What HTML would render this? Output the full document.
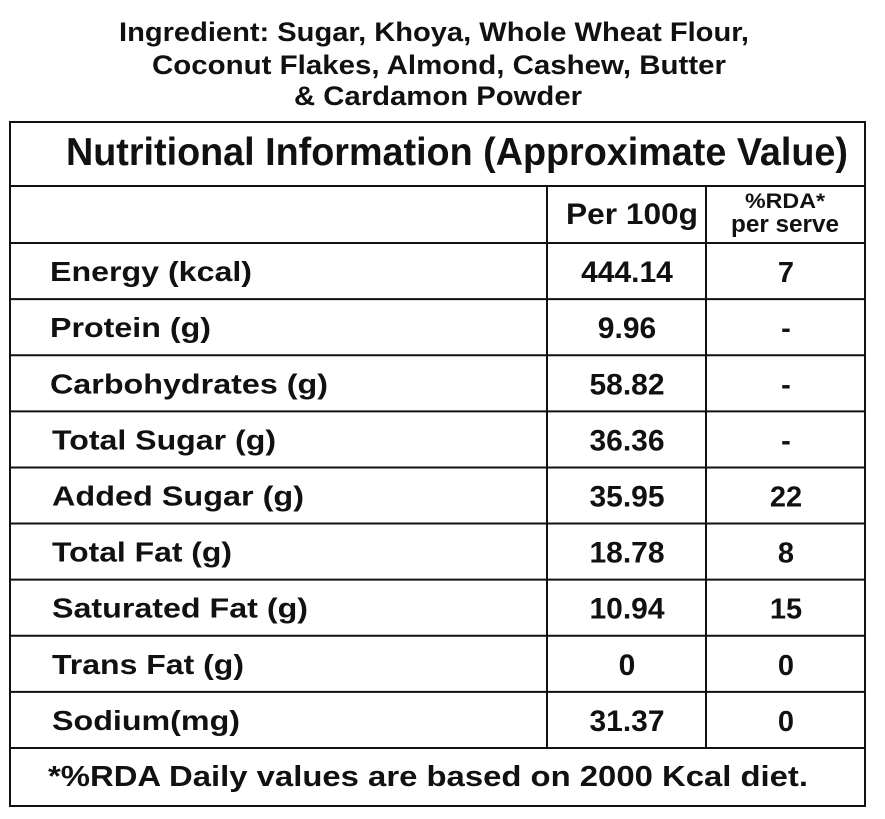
<!DOCTYPE html>
<html><head><meta charset="utf-8"><style>
html,body{margin:0;padding:0;background:#fff;}
svg{display:block;}
text{font-family:"Liberation Sans",Arial,sans-serif;font-weight:bold;fill:#111;}
</style></head><body>
<svg id="svg" width="885" height="819" viewBox="0 0 885 819" xmlns="http://www.w3.org/2000/svg">
<g>
<text x="119" y="41" font-size="27" textLength="630" lengthAdjust="spacingAndGlyphs">Ingredient: Sugar, Khoya, Whole Wheat Flour,</text>
<text x="152" y="74" font-size="27" textLength="574" lengthAdjust="spacingAndGlyphs">Coconut Flakes, Almond, Cashew, Butter</text>
<text x="294" y="105" font-size="27" textLength="288" lengthAdjust="spacingAndGlyphs">&amp; Cardamon Powder</text>
</g>
<g id="grid" stroke="#111" stroke-width="2" fill="none">
<rect x="10" y="122" width="855" height="684"/>
<line x1="10" y1="186" x2="865" y2="186"/>
<line x1="547" y1="186" x2="547" y2="748"/>
<line x1="706" y1="186" x2="706" y2="748"/>
</g>
<text x="66" y="165" font-size="39" textLength="782" lengthAdjust="spacingAndGlyphs">Nutritional Information (Approximate Value)</text>
<text x="566" y="224" font-size="30" textLength="132" lengthAdjust="spacingAndGlyphs">Per 100g</text>
<text x="785" y="208" font-size="21" text-anchor="middle" textLength="80" lengthAdjust="spacingAndGlyphs">%RDA*</text>
<text x="785" y="232" font-size="24" text-anchor="middle" textLength="108" lengthAdjust="spacingAndGlyphs">per serve</text>
<g id="rows"></g>
<text x="48" y="786" font-size="29" textLength="760" lengthAdjust="spacingAndGlyphs">*%RDA Daily values are based on 2000 Kcal diet.</text>
</svg>
<script>
const labels = ["Energy (kcal)","Protein (g)","Carbohydrates (g)","Total Sugar (g)","Added Sugar (g)","Total Fat (g)","Saturated Fat (g)","Trans Fat (g)","Sodium(mg)"];
const per100 = ["444.14","9.96","58.82","36.36","35.95","18.78","10.94","0","31.37"];
const rda = ["7","-","-","-","22","8","15","0","0"];
const labelWidths = [202,161,278,224,252,180,256,192,188];
const NS="http://www.w3.org/2000/svg";
const rows=document.getElementById('rows');
const grid=document.getElementById('grid');
const top0=243, rowH=(748-243)/labels.length;
for(let i=0;i<labels.length;i++){
  const y=top0+i*rowH;
  const ln=document.createElementNS(NS,'line');
  ln.setAttribute('x1',10);ln.setAttribute('x2',865);ln.setAttribute('y1',y);ln.setAttribute('y2',y);
  
  
  grid.appendChild(ln);
  const by=y+rowH/2+10;
  const t=document.createElementNS(NS,'text');
  t.setAttribute('x',i>=3?52:50);t.setAttribute('y',by);t.setAttribute('font-size','28');
  t.setAttribute('textLength',labelWidths[i]);t.setAttribute('lengthAdjust','spacingAndGlyphs');
  t.textContent=labels[i];
  
  
  rows.appendChild(t);
  const v=document.createElementNS(NS,'text');
  v.setAttribute('x',627);v.setAttribute('y',by+1);v.setAttribute('font-size','30');v.setAttribute('text-anchor','middle');
  v.textContent=per100[i];
  
  
  rows.appendChild(v);
  const r=document.createElementNS(NS,'text');
  r.setAttribute('x',786);r.setAttribute('y',by+1);r.setAttribute('font-size','29');r.setAttribute('text-anchor','middle');
  r.textContent=rda[i];
  
  
  rows.appendChild(r);
}
const last=document.createElementNS(NS,'line');
last.setAttribute('x1',10);last.setAttribute('x2',865);last.setAttribute('y1',748);last.setAttribute('y2',748);


grid.appendChild(last);
</script>
</body></html>
